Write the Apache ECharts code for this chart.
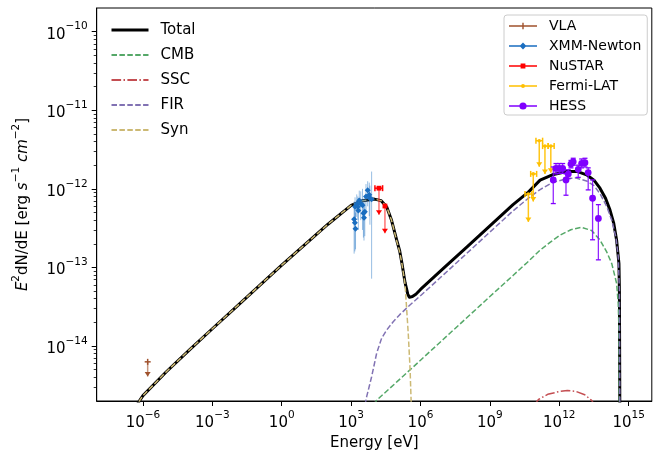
<!DOCTYPE html>
<html><head><meta charset="utf-8">
<script src="https://cdn.jsdelivr.net/npm/echarts@6/dist/echarts.min.js"></script>
<style>html,body{margin:0;padding:0;background:#fff}#c{width:653px;height:458px}</style>
</head><body><div id="c"></div>
<script>
// ---- axis ticks ----
const xTicks = [1e-6, 1e-3, 1, 1e3, 1e6, 1e9, 1e12, 1e15];
const yTicks = [1e-14, 1e-13, 1e-12, 1e-11, 1e-10];
const yMinorTicks = [3e-15,4e-15,5e-15,6e-15,7e-15,8e-15,9e-15,
  2e-14,3e-14,4e-14,5e-14,6e-14,7e-14,8e-14,9e-14,
  2e-13,3e-13,4e-13,5e-13,6e-13,7e-13,8e-13,9e-13,
  2e-12,3e-12,4e-12,5e-12,6e-12,7e-12,8e-12,9e-12,
  2e-11,3e-11,4e-11,5e-11,6e-11,7e-11,8e-11,9e-11];

// ---- model curves ----
const totalE = [5.0e-7, 6.3e-7, 1e-6, 1e-5, 1e-4, 1e-3, 1e-2, 0.1, 1, 10, 100, 1e3, 3.16e3, 1e4, 2e4, 3.47e4, 5.6e4, 9.3e4, 1.26e5, 1.58e5, 2.14e5, 2.82e5, 3.31e5, 4.47e5, 6.3e5, 1e6, 1e7, 1e8, 1e9, 1e10, 4.6e10, 1.48e11, 5e11, 2.1e12, 6.3e12, 1.51e13, 3.16e13, 5.75e13, 1e14, 1.55e14, 2.24e14, 3e14, 3.8e14, 3.98e14, 4.17e14];
const totalF = [1.58e-15, 1.91e-15, 2.34e-15, 4.68e-15, 8.9e-15, 1.66e-14, 3.09e-14, 5.75e-14, 1.07e-13, 1.95e-13, 3.55e-13, 6.17e-13, 7.08e-13, 7.41e-13, 7.08e-13, 5.89e-13, 3.98e-13, 2.24e-13, 1.62e-13, 1.12e-13, 6.46e-14, 4.57e-14, 4.17e-14, 4.27e-14, 4.57e-14, 5.25e-14, 9.8e-14, 1.82e-13, 3.39e-13, 6.3e-13, 9.1e-13, 1.29e-12, 1.51e-12, 1.66e-12, 1.66e-12, 1.51e-12, 1.29e-12, 1.02e-12, 7.6e-13, 5.4e-13, 3.7e-13, 2.24e-13, 1.12e-13, 5.0e-14, 1.0e-15];

const synE = [5.0e-7, 6.3e-7, 1e-6, 1e-5, 1e-4, 1e-3, 1e-2, 0.1, 1, 10, 100, 1e3, 3.16e3, 1e4, 2e4, 3.47e4, 5.6e4, 9.3e4, 1.26e5, 1.58e5, 2.14e5, 2.95e5, 3.55e5, 3.98e5];
const synF = [1.58e-15, 1.91e-15, 2.34e-15, 4.68e-15, 8.9e-15, 1.66e-14, 3.09e-14, 5.75e-14, 1.07e-13, 1.95e-13, 3.55e-13, 6.17e-13, 7.08e-13, 7.41e-13, 7.08e-13, 5.89e-13, 3.98e-13, 2.19e-13, 1.58e-13, 1.10e-13, 6.17e-14, 1.45e-14, 5.0e-15, 1.78e-15];

const cmbE = [1e4, 1.26e4, 1e5, 1e6, 1e7, 1e8, 1e9, 1e10, 4.0e10, 1.48e11, 4.0e11, 1.07e12, 3.16e12, 9.3e12, 2.5e13, 5.75e13, 1.12e14, 1.86e14, 3.0e14, 3.55e14, 3.8e14, 3.98e14];
const cmbF = [1.78e-15, 2.04e-15, 3.55e-15, 6.6e-15, 1.23e-14, 2.29e-14, 4.27e-14, 7.9e-14, 1.15e-13, 1.66e-13, 2.09e-13, 2.57e-13, 3.02e-13, 3.24e-13, 2.95e-13, 2.24e-13, 1.58e-13, 1.12e-13, 6.3e-14, 3.47e-14, 1.58e-14, 1.0e-15];

const firE = [3.98e3, 4.7e3, 7.7e3, 1.27e4, 2.09e4, 3.45e4, 6.6e4, 1.26e5, 3.5e5, 1e6, 1e7, 1e8, 1e9, 1e10, 4.6e10, 1.48e11, 5.0e11, 2.1e12, 5.0e12, 1.51e13, 3.16e13, 5.75e13, 1.12e14, 1.86e14, 2.82e14, 3.55e14, 3.98e14, 4.17e14];
const firF = [1.78e-15, 2.27e-15, 4.07e-15, 8.1e-15, 1.26e-14, 1.6e-14, 2.04e-14, 2.51e-14, 3.33e-14, 4.37e-14, 8.1e-14, 1.51e-13, 2.82e-13, 5.25e-13, 7.6e-13, 9.8e-13, 1.2e-12, 1.35e-12, 1.38e-12, 1.26e-12, 1.1e-12, 8.7e-13, 6.0e-13, 3.98e-13, 2.4e-13, 1.38e-13, 5.0e-14, 1.0e-15];

const sscE = [7.9e10, 1.26e11, 3.16e11, 1e12, 2.24e12, 5.0e12, 1.26e13, 2.5e13, 3.55e13];
const sscF = [1.74e-15, 2.09e-15, 2.43e-15, 2.64e-15, 2.72e-15, 2.66e-15, 2.4e-15, 2.04e-15, 1.74e-15];

// ---- data points ----
const vlaE = [1.6e-6], vlaF = [6.3e-15], vlaFlo = [4.1e-15];

const xmmE = [1.35e3, 1.45e3, 1.55e3, 1.48e3, 1.75e3, 1.95e3, 2.05e3, 2.25e3, 2.6e3, 3.1e3, 3.4e3, 3.6e3, 3.9e3, 4.4e3, 5.2e3, 6.1e3, 6.5e3, 7.7e3];
const xmmF = [4.1e-13, 3.7e-13, 3.1e-13, 5.9e-13, 6.4e-13, 5.9e-13, 5.3e-13, 7.1e-13, 6.5e-13, 6.2e-13, 4.9e-13, 4.3e-13, 5.1e-13, 8.0e-13, 9.6e-13, 8.4e-13, 7.6e-13, 7.4e-13];
const xmmFlo = [1.5e-13, 1.6e-13, 1.7e-13, 4.0e-13, 4.4e-13, 4.0e-13, 3.0e-13, 5.0e-13, 4.0e-13, 3.0e-13, 2.4e-13, 2.2e-13, 2.5e-13, 5.0e-13, 6.0e-13, 4.5e-13, 3.5e-13, 7.2e-14];
const xmmFhi = [6.9e-13, 6.2e-13, 5.0e-13, 7.8e-13, 8.5e-13, 8.0e-13, 7.6e-13, 9.5e-13, 9.3e-13, 1.0e-12, 7.5e-13, 6.5e-13, 8.0e-13, 1.15e-12, 1.25e-12, 1.2e-12, 1.1e-12, 1.66e-12];

const nuE = [1.6e4, 2.9e4], nuElo = [1.07e4, 2.9e4], nuEhi = [2.3e4, 2.9e4];
const nuF = [1.02e-12, 6.05e-13], nuFlo = [4.7e-13, 2.72e-13];

const fermiE = [4.6e10, 7.5e10, 1.36e11, 2.4e11, 4.3e11];
const fermiElo = [3.3e10, 5.8e10, 9.8e10, 1.9e11, 3.3e11];
const fermiEhi = [6.5e10, 1.05e11, 1.9e11, 3.3e11, 6.0e11];
const fermiF = [8.6e-13, 1.55e-12, 4.1e-12, 3.5e-12, 3.5e-12];
const fermiFlo = [3.8e-13, 6.9e-13, 1.91e-12, 1.55e-12, 1.6e-12];

const hessE = [5.5e11, 7.2e11, 1.0e12, 1.4e12, 1.95e12, 2.45e12, 3.2e12, 4.0e12, 6.6e12, 9.3e12, 1.29e13, 1.78e13, 2.75e13, 4.9e13];
const hessF = [1.30e-12, 1.82e-12, 1.82e-12, 1.82e-12, 1.30e-12, 1.55e-12, 2.07e-12, 2.21e-12, 1.77e-12, 2.11e-12, 2.15e-12, 1.61e-12, 7.6e-13, 4.2e-13];
const hessFlo = [6.5e-13, 1.55e-12, 1.58e-12, 1.58e-12, 8.3e-13, 1.35e-12, 1.85e-12, 2.0e-12, 1.4e-12, 1.85e-12, 1.9e-12, 9.7e-13, 2.25e-13, 1.25e-13];
const hessFhi = [1.9e-12, 2.1e-12, 2.1e-12, 2.1e-12, 1.55e-12, 1.75e-12, 2.3e-12, 2.45e-12, 2.0e-12, 2.4e-12, 2.45e-12, 1.85e-12, 1.3e-12, 6.3e-13];

// ---- helpers ----
const FONT = 'DejaVu Sans';
const zip = (a, b) => a.map((v, i) => [v, b[i]]);
function powLabel(v) {
  const e = Math.round(Math.log10(v));
  return '{b|10}{s|' + (e < 0 ? '\u2212' + (-e) : String(e)) + '}';
}
const powRich = {
  b: {fontFamily: FONT, fontSize: 15, color: '#000', verticalAlign: 'bottom', lineHeight: 21},
  s: {fontFamily: FONT, fontSize: 10.5, color: '#000', verticalAlign: 'top', lineHeight: 12}
};

function errRender(st) {
  return function (params, api) {
    const x = api.value(0), y = api.value(1);
    const xlo = api.value(2), xhi = api.value(3), ylo = api.value(4), yhi = api.value(5);
    const p = api.coord([x, y]);
    const pyl = api.coord([x, ylo])[1], pyh = api.coord([x, yhi])[1];
    const pxl = api.coord([xlo, y])[0], pxh = api.coord([xhi, y])[0];
    const ch = [];
    const ls = {stroke: st.lineColor, lineWidth: st.lw, fill: null};
    if (Math.abs(pyl - pyh) > 0.1) {
      ch.push({type: 'line', shape: {x1: p[0], y1: pyh, x2: p[0], y2: pyl}, style: ls});
    }
    if (Math.abs(pxh - pxl) > 0.1) {
      const hs = {stroke: st.color, lineWidth: st.lw, fill: null};
      ch.push({type: 'line', shape: {x1: pxl, y1: p[1], x2: pxh, y2: p[1]}, style: hs});
      ch.push({type: 'line', shape: {x1: pxl, y1: p[1] - st.cap, x2: pxl, y2: p[1] + st.cap}, style: hs});
      ch.push({type: 'line', shape: {x1: pxh, y1: p[1] - st.cap, x2: pxh, y2: p[1] + st.cap}, style: hs});
    }
    if (st.uplim) {
      ch.push({type: 'polygon', shape: {points: [[p[0] - st.aw, pyl - st.ah], [p[0] + st.aw, pyl - st.ah], [p[0], pyl]]},
        style: {fill: st.color, stroke: null}});
    } else if (st.cap > 0) {
      const cs = {stroke: st.color, lineWidth: st.lw, fill: null};
      ch.push({type: 'line', shape: {x1: p[0] - st.cap, y1: pyh, x2: p[0] + st.cap, y2: pyh}, style: cs});
      ch.push({type: 'line', shape: {x1: p[0] - st.cap, y1: pyl, x2: p[0] + st.cap, y2: pyl}, style: cs});
    }
    const r = st.r;
    if (st.marker === 'circle') {
      ch.push({type: 'circle', shape: {cx: p[0], cy: p[1], r: r}, style: {fill: st.color, stroke: null}});
    } else if (st.marker === 'diamond') {
      ch.push({type: 'polygon', shape: {points: [[p[0], p[1] - r], [p[0] + r, p[1]], [p[0], p[1] + r], [p[0] - r, p[1]]]}, style: {fill: st.color, stroke: null}});
    } else if (st.marker === 'square') {
      ch.push({type: 'rect', shape: {x: p[0] - r, y: p[1] - r, width: 2 * r, height: 2 * r}, style: {fill: st.color, stroke: null}});
    } else if (st.marker === 'plus') {
      const ps = {stroke: st.color, lineWidth: 1.5, fill: null};
      ch.push({type: 'line', shape: {x1: p[0] - r, y1: p[1], x2: p[0] + r, y2: p[1]}, style: ps});
      ch.push({type: 'line', shape: {x1: p[0], y1: p[1] - r, x2: p[0], y2: p[1] + r}, style: ps});
    }
    return {type: 'group', children: ch};
  };
}

function lineSeries(name, E, F, color, width, dash) {
  return {
    name: name, type: 'line', data: zip(E, F), showSymbol: false, symbol: 'none', smooth: false,
    color: color, lineStyle: {color: color, width: width, type: dash || 'solid', cap: 'butt', join: 'round'},
    z: 2, silent: true
  };
}
function errSeries(name, data, st) {
  return {
    name: name, type: 'custom', data: data, renderItem: errRender(st),
    encode: {x: 0, y: 1}, itemStyle: {color: st.color}, color: st.color, z: 3, silent: true
  };
}

const pin = 'M0 0 L0.01 0 L0 0.01 Z M28 10 L27.99 10 L28 9.99 Z ';
const lineP = 'M0 4.35 L28 4.35 L28 5.65 L0 5.65 Z ';
const icons = {
  VLA: 'path://' + pin + lineP + 'M13.3 1.8 L14.7 1.8 L14.7 8.2 L13.3 8.2 Z',
  XMM: 'path://' + pin + lineP + 'M14 1.6 L17.4 5 L14 8.4 L10.6 5 Z',
  NU: 'path://' + pin + lineP + 'M11.6 2.6 L16.4 2.6 L16.4 7.4 L11.6 7.4 Z',
  FERMI: 'path://' + pin + lineP + 'M12 5 A2 2 0 0 1 16 5 A2 2 0 0 1 12 5 Z',
  HESS: 'path://' + pin + lineP + 'M10.4 5 A3.6 3.6 0 0 1 17.6 5 A3.6 3.6 0 0 1 10.4 5 Z'
};

const dash = [5.5, 2.4];
const dashDot = [9.6, 2.4, 1.5, 2.4];

const option = {
  animation: false,
  backgroundColor: '#fff',
  grid: {left: 96.7, right: 1.2, top: 8, bottom: 57, show: true, borderColor: '#000', borderWidth: 1, backgroundColor: 'transparent'},
  xAxis: {
    type: 'log', logBase: 10, min: 1e-8, max: 1e16,
    name: 'Energy [eV]', nameLocation: 'middle', nameGap: 34,
    nameTextStyle: {fontFamily: FONT, fontSize: 15, color: '#000'},
    axisLine: {show: true, lineStyle: {color: '#000', width: 1}},
    axisTick: {show: true, length: 5, lineStyle: {color: '#000', width: 1}, customValues: xTicks},
    axisLabel: {customValues: xTicks, margin: 9, formatter: powLabel, rich: powRich},
    splitLine: {show: false}, minorTick: {show: false}, minorSplitLine: {show: false}
  },
  yAxis: [{
    type: 'log', logBase: 10, min: 2e-15, max: 2e-10, position: 'left',
    name: '{i|E}{s|2}{n|dN/dE [erg }{i|s}{s|\u22121}{n| }{i|cm}{s|\u22122}{n|]}',
    nameLocation: 'middle', nameGap: 66,
    nameTextStyle: {
      fontFamily: FONT, fontSize: 15, color: '#000',
      rich: {
        n: {fontFamily: FONT, fontSize: 15, color: '#000', verticalAlign: 'bottom', lineHeight: 20},
        i: {fontFamily: FONT, fontSize: 15, fontStyle: 'italic', color: '#000', verticalAlign: 'bottom', lineHeight: 20},
        s: {fontFamily: FONT, fontSize: 10.5, color: '#000', verticalAlign: 'top', lineHeight: 12}
      }
    },
    axisLine: {show: true, lineStyle: {color: '#000', width: 1}},
    axisTick: {show: true, length: 5, lineStyle: {color: '#000', width: 1}, customValues: yTicks},
    axisLabel: {customValues: yTicks, margin: 9, formatter: powLabel, rich: powRich},
    splitLine: {show: false}, minorTick: {show: false}
  }, {
    type: 'log', logBase: 10, min: 2e-15, max: 2e-10, position: 'left', offset: 0,
    axisLine: {show: false},
    axisTick: {show: true, length: 3, lineStyle: {color: '#000', width: 0.8}, customValues: yMinorTicks},
    axisLabel: {show: false}, splitLine: {show: false}
  }],
  legend: [{
    data: [{name: 'Total', lineStyle: {width: 3}}, 'CMB', 'SSC', 'FIR', 'Syn'],
    orient: 'vertical', left: 110, top: 22.5, padding: 0,
    itemWidth: 37, itemHeight: 14, itemGap: 10,
    itemStyle: {opacity: 0},
    textStyle: {fontFamily: FONT, fontSize: 15, color: '#000', lineHeight: 15, padding: [0, 0, 0, 7]},
    selectedMode: false
  }, {
    data: [
      {name: 'VLA', icon: icons.VLA},
      {name: 'XMM-Newton', icon: icons.XMM},
      {name: 'NuSTAR', icon: icons.NU},
      {name: 'Fermi-LAT', icon: icons.FERMI},
      {name: 'HESS', icon: icons.HESS}
    ],
    orient: 'vertical', left: 504, top: 15, padding: [4, 6, 2, 5],
    itemWidth: 28, itemHeight: 10, itemGap: 6,
    backgroundColor: 'rgba(255,255,255,0.8)', borderColor: '#cccccc', borderWidth: 1, borderRadius: 3,
    textStyle: {fontFamily: FONT, fontSize: 14, color: '#000', lineHeight: 14, padding: [0, 0, 0, 7]},
    selectedMode: false
  }],
  series: [
    lineSeries('Total', totalE, totalF, '#000000', 3, 'solid'),
    lineSeries('CMB', cmbE, cmbF, '#55a868', 1.5, dash),
    lineSeries('SSC', sscE, sscF, '#c44e52', 1.5, dashDot),
    lineSeries('FIR', firE, firF, '#8172b3', 1.5, dash),
    lineSeries('Syn', synE, synF, '#ccb974', 1.5, dash),
    errSeries('VLA', vlaE.map((e, i) => [e, vlaF[i], e, e, vlaFlo[i], vlaF[i]]),
      {color: '#a0522d', lineColor: 'rgba(160,82,45,0.6)', lw: 1.5, cap: 0, uplim: true, aw: 3, ah: 4.5, marker: 'plus', r: 3}),
    errSeries('XMM-Newton', xmmE.map((e, i) => [e, xmmF[i], e, e, xmmFlo[i], xmmFhi[i]]),
      {color: '#1a6ec0', lineColor: 'rgba(26,110,192,0.45)', lw: 1, cap: 0, uplim: false, marker: 'diamond', r: 3}),
    errSeries('NuSTAR', nuE.map((e, i) => [e, nuF[i], nuElo[i], nuEhi[i], nuFlo[i], nuF[i]]),
      {color: '#ff0000', lineColor: 'rgba(255,0,0,0.55)', lw: 1.5, cap: 3, uplim: true, aw: 3, ah: 4.5, marker: 'square', r: 2.4}),
    errSeries('Fermi-LAT', fermiE.map((e, i) => [e, fermiF[i], fermiElo[i], fermiEhi[i], fermiFlo[i], fermiF[i]]),
      {color: '#ffc000', lineColor: 'rgba(255,192,0,0.9)', lw: 1.5, cap: 3, uplim: true, aw: 3, ah: 4.5, marker: 'circle', r: 1.8}),
    errSeries('HESS', hessE.map((e, i) => [e, hessF[i], e, e, hessFlo[i], hessFhi[i]]),
      {color: '#8000ff', lineColor: 'rgba(128,0,255,0.85)', lw: 1.3, cap: 2.5, uplim: false, marker: 'circle', r: 3.4})
  ]
};

const chart = echarts.init(document.getElementById('c'), null, {renderer: 'canvas'});
chart.setOption(option);
</script>
</body></html>
